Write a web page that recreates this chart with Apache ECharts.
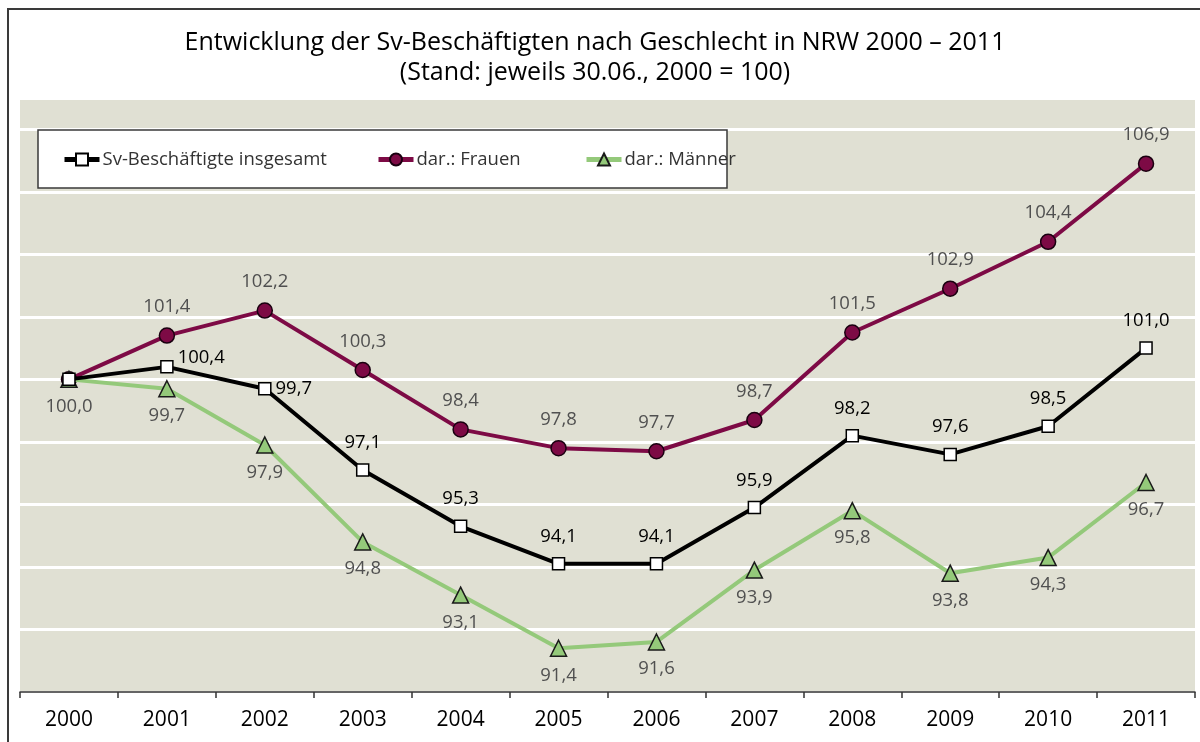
<!DOCTYPE html>
<html>
<head>
<meta charset="utf-8">
<script src="https://cdn.jsdelivr.net/npm/echarts@6/dist/echarts.min.js"></script>
<style>
  html, body { margin: 0; padding: 0; background: #ffffff; }
  #chart { width: 1200px; height: 742px; }
</style>
</head>
<body>
<div id="chart"></div>
<script>
// Werte (2000 = 100)
const years = ['2000', '2001', '2002', '2003', '2004', '2005', '2006', '2007', '2008', '2009', '2010', '2011'];
const insgesamt = [100.0, 100.4, 99.7, 97.1, 95.3, 94.1, 94.1, 95.9, 98.2, 97.6, 98.5, 101.0];
const frauen = [100.0, 101.4, 102.2, 100.3, 98.4, 97.8, 97.7, 98.7, 101.5, 102.9, 104.4, 106.9];
const maenner = [100.0, 99.7, 97.9, 94.8, 93.1, 91.4, 91.6, 93.9, 95.8, 93.8, 94.3, 96.7];

const FONT = 'Open Sans';
const fmt = v => v.toFixed(1).replace('.', ',');

const chart = echarts.init(document.getElementById('chart'), null, { renderer: 'canvas' });

// Label pro Punkt: erstes ggf. ausblenden, Sonderpositionen
function withLabels(values, hideFirst, special) {
  return values.map((v, i) => {
    const item = { value: v };
    if (i === 0 && hideFirst) {
      item.label = { show: false };
    } else if (special && special[i]) {
      item.label = special[i];
    }
    return item;
  });
}

// je ein Legendeneintrag, feste Spalten wie im Original
function legendAt(left, name) {
  return {
    left: left,
    top: 150,
    z: 10,
    padding: 0,
    itemWidth: 35,
    itemHeight: 15,
    itemGap: 6,
    lineStyle: { width: 5 },
    textStyle: { fontFamily: FONT, fontSize: 18.5, color: '#333333', padding: [0, 0, 0, -2] },
    data: [name]
  };
}

chart.setOption({
  animation: false,
  backgroundColor: '#ffffff',
  textStyle: { fontFamily: FONT },
  title: {
    text: 'Entwicklung der Sv-Beschäftigten nach Geschlecht in NRW 2000 – 2011',
    subtext: '(Stand: jeweils 30.06., 2000 = 100)',
    left: 590,
    textAlign: 'center',
    top: 25,
    itemGap: 5,
    textStyle: { fontFamily: FONT, fontSize: 25, fontWeight: 'normal', color: '#000000' },
    subtextStyle: { fontFamily: FONT, fontSize: 25, color: '#000000' }
  },
  graphic: [
    {
      type: 'rect', z: 0, silent: true,
      shape: { x: 8, y: 9, width: 1200, height: 800 },
      style: { fill: 'none', stroke: '#3a3a3a', lineWidth: 2 }
    },
    {
      type: 'rect', z: 5, silent: true,
      shape: { x: 38, y: 130, width: 689, height: 58 },
      style: { fill: '#ffffff', stroke: '#3a3a3a', lineWidth: 1.5 }
    }
  ],
  legend: [
    legendAt(62, 'Sv-Beschäftigte insgesamt'),
    legendAt(376, 'dar.: Frauen'),
    legendAt(584, 'dar.: Männer')
  ],
  grid: {
    left: 20, right: 5, top: 98, bottom: 50,
    show: true,
    backgroundColor: '#e0e0d3',
    borderWidth: 0
  },
  xAxis: {
    type: 'category',
    data: years,
    boundaryGap: true,
    axisLine: { lineStyle: { color: '#333333', width: 1.5 } },
    axisTick: { show: true, length: 6, lineStyle: { color: '#333333', width: 1.5 } },
    axisLabel: { fontFamily: FONT, fontSize: 21, color: '#000000', margin: 18 },
    splitLine: { show: false }
  },
  yAxis: {
    type: 'value',
    min: 90,
    max: 109,
    interval: 2,
    axisLine: { show: false },
    axisTick: { show: false },
    axisLabel: { show: false },
    splitLine: { lineStyle: { color: '#ffffff', width: 3 } }
  },
  series: [
    {
      name: 'dar.: Frauen',
      type: 'line',
      z: 3,
      data: withLabels(frauen, true),
      symbol: 'circle',
      symbolSize: 15,
      lineStyle: { color: '#7d0a45', width: 4 },
      itemStyle: { color: '#7d0a45', borderColor: '#1a0010', borderWidth: 1.5 },
      label: {
        show: true, position: 'top', distance: 11,
        formatter: p => fmt(p.value), fontFamily: FONT, fontSize: 18.5, color: '#505050'
      }
    },
    {
      name: 'dar.: Männer',
      type: 'line',
      z: 4,
      data: withLabels(maenner, false),
      symbol: 'triangle',
      symbolSize: 16,
      lineStyle: { color: '#94c97a', width: 4 },
      itemStyle: { color: '#94c97a', borderColor: '#1a1a1a', borderWidth: 1.5 },
      label: {
        show: true, position: 'bottom', distance: 9,
        formatter: p => fmt(p.value), fontFamily: FONT, fontSize: 18.5, color: '#505050'
      }
    },
    {
      name: 'Sv-Beschäftigte insgesamt',
      type: 'line',
      z: 5,
      data: withLabels(insgesamt, true, {
        1: { position: 'right', offset: [0, -9], distance: 4 },
        2: { position: 'right', distance: 4 }
      }),
      symbol: 'rect',
      symbolSize: 12,
      lineStyle: { color: '#000000', width: 4 },
      itemStyle: { color: '#ffffff', borderColor: '#000000', borderWidth: 1.5 },
      label: {
        show: true, position: 'top', distance: 11,
        formatter: p => fmt(p.value), fontFamily: FONT, fontSize: 18.5, color: '#000000', fontWeight: 500
      }
    }
  ]
});
</script>
</body>
</html>
